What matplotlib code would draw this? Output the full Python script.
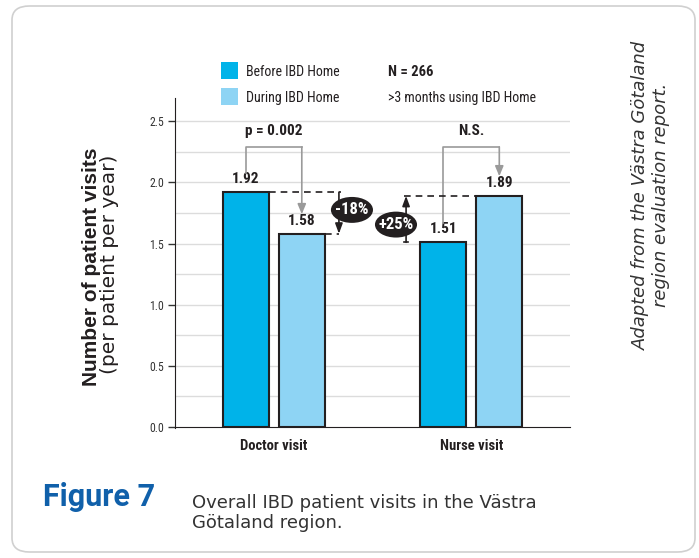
import matplotlib
matplotlib.use("Agg")
import matplotlib.pyplot as plt
from matplotlib import font_manager as fm
from matplotlib.patches import Ellipse, FancyBboxPatch, Rectangle
import numpy as np

# data
categories = ["Doctor visit", "Nurse visit"]
before = [1.92, 1.51]
during = [1.58, 1.89]
series_labels = ["Before IBD Home", "During IBD Home"]
change_labels = ["-18%", "+25%"]
sig_labels = ["p = 0.002", "N.S."]
y_ticks = [0.0, 0.5, 1.0, 1.5, 2.0, 2.5]

c_before = "#00b3e9"
c_during = "#8ed4f4"
c_edge = "#231f20"
c_gray = "#9a9a9a"


# pick a narrow font if there is one
def narrow_font():
    for fam in ["Roboto Condensed", "Liberation Sans Narrow", "Open Sans Condensed"]:
        try:
            fm.findfont(fm.FontProperties(family=fam), fallback_to_default=False)
            return dict(family=fam)
        except ValueError:
            pass
    return dict(family="DejaVu Sans", fontstretch="condensed")


NF = narrow_font()

fig = plt.figure(figsize=(6.99, 5.58), dpi=100)

# rounded frame around everything
frame = FancyBboxPatch((12 / 699, 6 / 558), 683 / 699, 546 / 558,
                       boxstyle="round,pad=0,rounding_size=0.025",
                       transform=fig.transFigure, fill=False,
                       edgecolor="#d0d0d0", linewidth=1.2)
fig.patches.append(frame)

ax = fig.add_axes([175 / 699, 1 - 427 / 558, 395 / 699, 329 / 558])
x = np.arange(len(categories))
w = 0.234
off = 0.142
ax.bar(x - off, before, w, color=c_before, edgecolor=c_edge, linewidth=1.5, zorder=3)
ax.bar(x + off, during, w, color=c_during, edgecolor=c_edge, linewidth=1.5, zorder=3)

ax.set_xlim(-0.5, 1.5)
ax.set_ylim(0, 2.69)
ax.set_yticks(y_ticks)
ax.set_yticklabels([f"{t:.1f}" for t in y_ticks], fontsize=8.5, color="#333333", **NF)
for g in np.arange(0.25, 2.6, 0.25):
    ax.axhline(g, color="#dcdcdc", linewidth=1, zorder=0)
ax.tick_params(axis="y", direction="out", length=5, width=1, color="#333333", pad=3)
ax.set_xticks(x)
ax.set_xticklabels(categories, fontsize=10.5, fontweight="bold", color="#231f20", **NF)
ax.tick_params(axis="x", length=0, pad=9)
for s in ["top", "right"]:
    ax.spines[s].set_visible(False)
ax.spines["left"].set_color("#231f20")
ax.spines["bottom"].set_color("#231f20")
ax.spines["left"].set_bounds(-0.01, 2.69)

# value labels
for i in range(len(categories)):
    ax.text(x[i] - off, before[i] + 0.05, f"{before[i]:.2f}", ha="center", va="bottom",
            fontsize=11, fontweight="bold", color="#231f20", **NF)
    ax.text(x[i] + off, during[i] + 0.05, f"{during[i]:.2f}", ha="center", va="bottom",
            fontsize=11, fontweight="bold", color="#231f20", **NF)

# significance brackets
top = 2.29
for i in range(len(categories)):
    y_left = before[i] + 0.16
    y_tip = during[i] + 0.16
    ax.plot([x[i] - off, x[i] - off, x[i] + off],
            [y_left, top, top], color=c_gray, linewidth=1.2, zorder=4)
    ax.annotate("", xy=(x[i] + off, y_tip), xytext=(x[i] + off, top),
                arrowprops=dict(arrowstyle="-|>,head_length=0.6,head_width=0.25",
                                color=c_gray, linewidth=1.2, shrinkA=0, shrinkB=0), zorder=4)
    ax.text(x[i], top + 0.07, sig_labels[i], ha="center", va="bottom",
            fontsize=11, fontweight="bold", color="#231f20", **NF)

# change arrows
arrow_x = [0.33, 0.67]
ell_xy = [(0.396, 1.775), (0.619, 1.655)]
for i in range(len(categories)):
    xa = arrow_x[i]
    if i == 0:
        ax.plot([x[i] - off + w / 2, xa + 0.012], [before[i]] * 2, color="#231f20",
                linewidth=1.2, dashes=(4, 3), zorder=4)
        ax.plot([x[i] + off + w / 2, xa], [during[i]] * 2, color="#231f20",
                linewidth=1.2, dashes=(4, 3), zorder=4)
    else:
        ax.plot([xa - 0.012, x[i] + off - w / 2], [during[i]] * 2, color="#231f20",
                linewidth=1.2, dashes=(4, 3), zorder=4)
        ax.plot([xa - 0.012, xa + 0.012], [before[i]] * 2, color="#231f20",
                linewidth=1.2, zorder=4)
    ax.annotate("", xy=(xa, during[i]), xytext=(xa, before[i]),
                arrowprops=dict(arrowstyle="-|>,head_length=0.6,head_width=0.22",
                                color="#231f20", linewidth=1.2, shrinkA=0, shrinkB=0), zorder=4)
    e = Ellipse(ell_xy[i], 0.213, 0.212, facecolor="#231f20", edgecolor="none", zorder=5)
    ax.add_patch(e)
    ax.text(ell_xy[i][0], ell_xy[i][1], change_labels[i], ha="center", va="center",
            fontsize=12, fontweight="bold", color="white", zorder=6, **NF)

# legend
for j, (lab, col) in enumerate(zip(series_labels, [c_before, c_during])):
    yc = 1 - (70.5 + 26 * j) / 558
    fig.patches.append(Rectangle((221 / 699, yc - 8.5 / 558), 17 / 699, 17 / 558,
                                 transform=fig.transFigure, facecolor=col, edgecolor="none"))
    fig.text(246 / 699, 1 - (72 + 26 * j) / 558, lab, ha="left", va="center", fontsize=10,
             color="#231f20", **NF)
fig.text(388 / 699, 1 - 72 / 558, "N = 266", ha="left", va="center",
         fontsize=10.5, fontweight="bold", color="#231f20", **NF)
fig.text(388 / 699, 1 - 98 / 558, ">3 months using IBD Home", ha="left", va="center",
         fontsize=10, color="#231f20", **NF)

# y axis label
fig.text(97 / 699, 1 - 267 / 558, "Number of patient visits", rotation=90, ha="center",
         va="baseline", rotation_mode="anchor", family=["Liberation Sans", "DejaVu Sans"],
         fontsize=15, fontweight="bold", color="#231f20")
fig.text(115 / 699, 1 - 264 / 558, "(per patient per year)", rotation=90, ha="center",
         va="baseline", rotation_mode="anchor", family="DejaVu Sans",
         fontsize=14.5, color="#231f20")

# side note
fig.text(651 / 699, 1 - 195 / 558, "Adapted from the Västra Götaland\nregion evaluation report.",
         rotation=90, ha="center", va="center", multialignment="center", style="italic",
         family="DejaVu Sans", fontsize=13, color="#333333", linespacing=1.08)

# caption
fig.text(43 / 699, 1 - 497 / 558, "Figure 7", ha="left", va="center",
         family=["Roboto", "DejaVu Sans"], fontsize=22, fontweight="bold", color="#1060aa")
fig.text(192 / 699, 1 - 513 / 558, "Overall IBD patient visits in the Västra\nGötaland region.",
         ha="left", va="center", family="DejaVu Sans", fontsize=13,
         color="#333333", linespacing=1.12)

fig.savefig("out.png", dpi=100)
